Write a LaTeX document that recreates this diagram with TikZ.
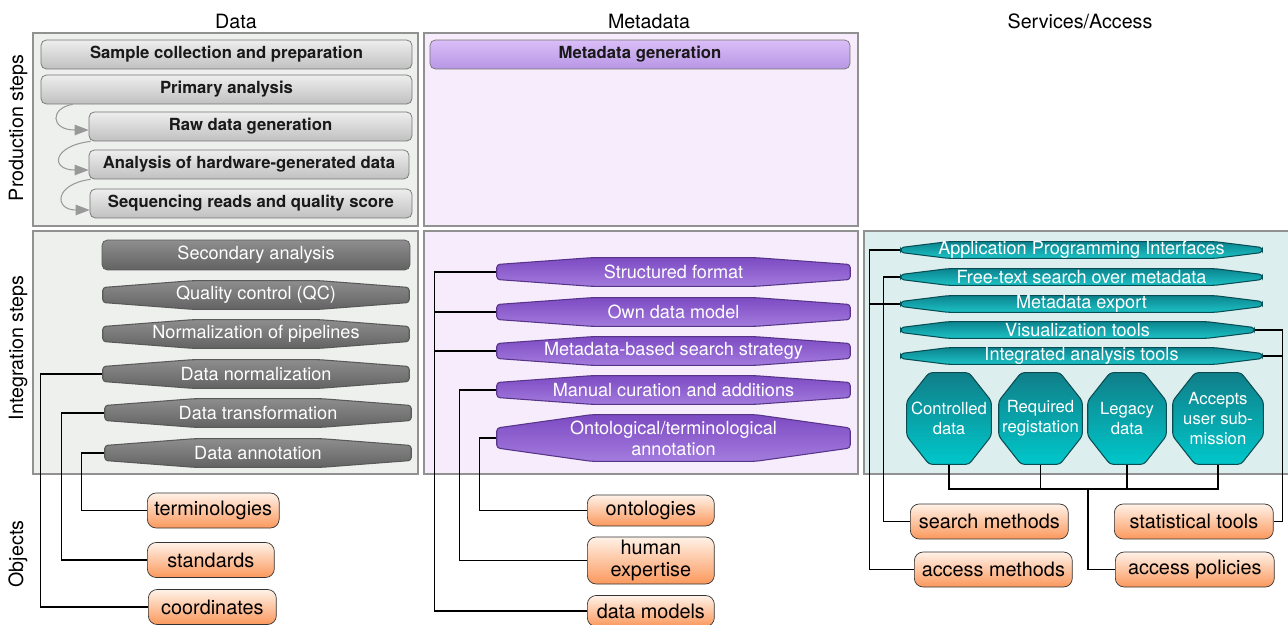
\documentclass[tikz,border=0pt]{standalone}
\usepackage{fontspec}
\setmainfont{TeX Gyre Heros}
\usepackage{xcolor}
\usetikzlibrary{arrows.meta,calc}

\definecolor{panelgray}{RGB}{238,240,238}
\definecolor{panelpurple}{RGB}{247,236,252}
\definecolor{panelteal}{RGB}{220,239,238}
\definecolor{panelline}{RGB}{145,145,145}
\definecolor{prodtop}{RGB}{238,238,238}
\definecolor{prodbot}{RGB}{192,192,192}
\definecolor{gentop}{RGB}{218,190,248}
\definecolor{genbot}{RGB}{183,150,228}
\definecolor{darktop}{RGB}{142,142,142}
\definecolor{darkbot}{RGB}{98,98,98}
\definecolor{purptop}{RGB}{124,74,194}
\definecolor{purpbot}{RGB}{164,124,222}
\definecolor{tealtop}{RGB}{12,130,140}
\definecolor{tealbot}{RGB}{28,196,200}
\definecolor{octtop}{RGB}{16,126,136}
\definecolor{octbot}{RGB}{0,200,203}
\definecolor{objtop}{RGB}{255,242,232}
\definecolor{objbot}{RGB}{251,152,92}

\tikzset{
  panel/.style={draw=panelline,line width=0.6pt},
  header/.style={font=\fontsize{11.2}{13}\selectfont},
  rowlabel/.style={rotate=90,font=\fontsize{11.2}{13}\selectfont},
  infont/.style={font=\bfseries\fontsize{9.5}{11.5}\selectfont},
  whitefont/.style={font=\fontsize{10.3}{12}\selectfont,text=white},
  prodbox/.style={infont,draw=black!55,rounded corners=3pt,top color=prodtop,bottom color=prodbot,
    minimum height=0.58cm,inner sep=0pt,text=black!90},
  genbox/.style={prodbox,top color=gentop,bottom color=genbot},
  darkfill/.style={draw=black!65,top color=darktop,bottom color=darkbot},
  purpfill/.style={draw=purptop!70!black,top color=purptop,bottom color=purpbot},
  tealfill/.style={draw=tealtop!60!black,top color=tealtop,bottom color=tealbot},
  octfill/.style={draw=octtop!60!black,top color=octtop,bottom color=octbot},
  % octagon-like outline drawn inside the node's rectangle
  facets/.style n args={3}{path picture={
    \draw[#3,line width=0.6pt,rounded corners=1.8pt]
      ($(path picture bounding box.north west)+(0.4pt,-#2)$) --
      ($(path picture bounding box.north west)+(#1,-0.4pt)$) --
      ($(path picture bounding box.north east)+(-#1,-0.4pt)$) --
      ($(path picture bounding box.north east)+(-0.4pt,-#2)$) --
      ($(path picture bounding box.south east)+(-0.4pt,#2)$) --
      ($(path picture bounding box.south east)+(-#1,0.4pt)$) --
      ($(path picture bounding box.south west)+(#1,0.4pt)$) --
      ($(path picture bounding box.south west)+(0.4pt,#2)$) -- cycle;}},
  darkbox/.style={whitefont,darkfill,rounded corners=3pt,minimum height=0.6cm,minimum width=6.16cm,
    inner sep=0pt},
  darkhex/.style={whitefont,facets={1.8cm}{0.15cm}{darkfill},minimum height=0.6cm,minimum width=6.16cm,
    inner sep=0pt},
  purphex/.style={whitefont,facets={1.9cm}{0.15cm}{purpfill},minimum height=0.6cm,minimum width=7.1cm,
    inner sep=0pt,align=center},
  tealhex/.style={whitefont,facets={0.95cm}{0.13cm}{tealfill},minimum height=0.36cm,inner sep=0pt},
  tealoct/.style={facets={0.46cm}{0.58cm}{octfill},minimum height=1.86cm,inner sep=0pt,
    align=center,text=white,font=\fontsize{9.5}{11.2}\selectfont},
  objbox/.style={draw=black!80,rounded corners=5pt,top color=objtop,bottom color=objbot,
    font=\fontsize{11.3}{13}\selectfont,inner xsep=4pt,inner ysep=0pt,minimum height=0.7cm,align=center},
  link/.style={draw=black,line width=0.7pt},
  stepflow/.style={draw=black!40,line width=0.6pt,-{Triangle[length=8pt,width=6pt]}}
}

\begin{document}
\begin{tikzpicture}[x=0.02cm,y=-0.02cm]
\useasboundingbox (0,0) rectangle (1288,625);

% panels
\draw[panel,fill=panelgray] (33,33) rectangle (418,226);
\draw[panel,fill=panelpurple] (424,33) rectangle (858,226);
\draw[panel,fill=panelgray] (33,231) rectangle (418,474);
\draw[panel,fill=panelpurple] (424,231) rectangle (858,474);
\draw[panel,fill=panelteal] (864,231) rectangle (1292,474);

% column and row titles
\node[header] (hdata) at (236,21) {Data};
\node[header] (hmeta) at (649,21) {Metadata};
\node[header] (hserv) at (1080,21) {Services/Access};
\node[rowlabel] (rprod) at (18,128) {Production steps};
\node[rowlabel] (rint) at (18,348) {Integration steps};
\node[rowlabel] (robj) at (18,554) {Objects};

% production steps
\node[prodbox,minimum width=7.42cm] (sample) at (226.5,54.5) {Sample collection and preparation};
\node[prodbox,minimum width=7.42cm] (primary) at (226.5,89.5) {Primary analysis};
\node[prodbox,minimum width=6.46cm] (raw) at (250.5,126.5) {Raw data generation};
\node[prodbox,minimum width=6.4cm] (hardware) at (249,164.5) {Analysis of hardware-generated data};
\node[prodbox,minimum width=6.44cm] (reads) at (251,203.5) {Sequencing reads and quality score};
\node[genbox,minimum width=8.4cm] (metagen) at (640,54.5) {Metadata generation};

\draw[stepflow] ($(primary.south west)+(32,0)$) .. controls (50,108) and (50,130) .. ($(raw.west)+(0,3.5)$);
\draw[stepflow] ($(raw.south west)+(2,0)$) .. controls (52,146) and (50,170) .. ($(hardware.west)+(0,5.5)$);
\draw[stepflow] ($(hardware.south west)+(2,0)$) .. controls (54,184) and (54,210) .. ($(reads.west)+(0,6.5)$);

% integration steps, data
\node[darkbox] (secondary) at (256,255) {Secondary analysis};
\node[darkhex] (qc) at (256,295) {Quality control (QC)};
\node[darkhex] (pipelines) at (256,334) {Normalization of pipelines};
\node[darkhex] (dnorm) at (256,374) {Data normalization};
\node[darkhex] (dtrans) at (258,413) {Data transformation};
\node[darkhex] (dannot) at (258,453) {Data annotation};

% integration steps, metadata
\node[purphex] (structured) at (673.5,272) {Structured format};
\node[purphex] (ownmodel) at (673.5,312) {Own data model};
\node[purphex] (searchstrat) at (673.5,351) {Metadata-based search strategy};
\node[purphex] (curation) at (673.5,390) {Manual curation and additions};
\node[purphex,minimum height=0.96cm,facets={1.9cm}{0.28cm}{purpfill},
  font=\fontsize{10.3}{12}\selectfont] (ontoannot) at (673.5,438)
  {Ontological/terminological\\annotation};

% services
\node[tealhex,minimum width=7.26cm] (api) at (1081.5,250) {Application Programming Interfaces};
\node[tealhex,minimum width=7.26cm] (freetext) at (1081.5,277) {Free-text search over metadata};
\node[tealhex,minimum width=7.26cm] (export) at (1081.5,304) {Metadata export};
\node[tealhex,minimum width=7.1cm] (vistools) at (1077.5,330) {Visualization tools};
\node[tealhex,minimum width=7.26cm] (analysis) at (1081.5,356) {Integrated analysis tools};
\node[tealoct,minimum width=1.72cm] (controlled) at (949,418.5) {Controlled\\data};
\node[tealoct,minimum width=1.7cm] (registration) at (1040.5,418.5) {Required\\registation};
\node[tealoct,minimum width=1.6cm] (legacy) at (1127,418.5) {Legacy\\data};
\node[tealoct,minimum width=1.84cm] (submission) at (1218,418.5) {Accepts\\user sub-\\mission};

% objects
\node[objbox,anchor=west] (terms) at (147,510.5) {terminologies};
\node[objbox,anchor=west,minimum width=2.54cm] (standards) at (147,560) {standards};
\node[objbox,anchor=west,minimum width=2.56cm] (coords) at (148,607) {coordinates};
\node[objbox,anchor=west,minimum width=2.54cm,minimum height=0.62cm] (ontologies) at (587,510.5) {ontologies};
\node[objbox,anchor=west,minimum width=2.54cm,minimum height=0.94cm] (expertise) at (587,560.5) {human\\expertise};
\node[objbox,anchor=west,minimum width=2.54cm,minimum height=0.62cm] (datamodels) at (587,611) {data models};
\node[objbox,anchor=west,minimum width=3.16cm] (searchm) at (910,521.5) {search methods};
\node[objbox,anchor=west,minimum width=3.16cm] (accessm) at (914,569.5) {access methods};
\node[objbox,anchor=west,minimum width=3.18cm] (stattools) at (1114,521.5) {statistical tools};
\node[objbox,anchor=west,minimum width=3.18cm] (policies) at (1115,569.5) {access policies};

% connectors, data
\draw[link] (dnorm.west) -- ++(-61,0) |- (coords.west);
\draw[link] (dtrans.west) -- ++(-42,0) |- (standards.west);
\draw[link] (dannot.west) -- ++(-22,0) |- (terms.west);

% connectors, metadata
\draw[link] (structured.west) -- ++(-61,0) |- (datamodels.west);
\draw[link] (ownmodel.west) -- ++(-61,0);
\draw[link] (searchstrat.west) -- ++(-61,0);
\draw[link] (curation.west) -- ++(-36,0) |- (expertise.west);
\draw[link] (ontoannot.west) -- ++(-16,0) |- (ontologies.west);

% connectors, services
\draw[link] (api.west) -- ++(-30,0) |- (accessm.west);
\draw[link] (export.west) -- ++(-30,0);
\draw[link] (freetext.west) -- ++(-16,0) |- (searchm.west);
\draw[link] (vistools.east) -- ++(27,0) |- (stattools.east);
\draw[link] (analysis.east) -- ++(19,0);
\coordinate (pbus) at (1088,489);
\draw[link] (controlled.south) |- (pbus) -| (submission.south);
\draw[link] (registration.south) -- (registration.south |- pbus);
\draw[link] (legacy.south) -- (legacy.south |- pbus);
\draw[link] (pbus) |- (policies.west);
\end{tikzpicture}
\end{document}
